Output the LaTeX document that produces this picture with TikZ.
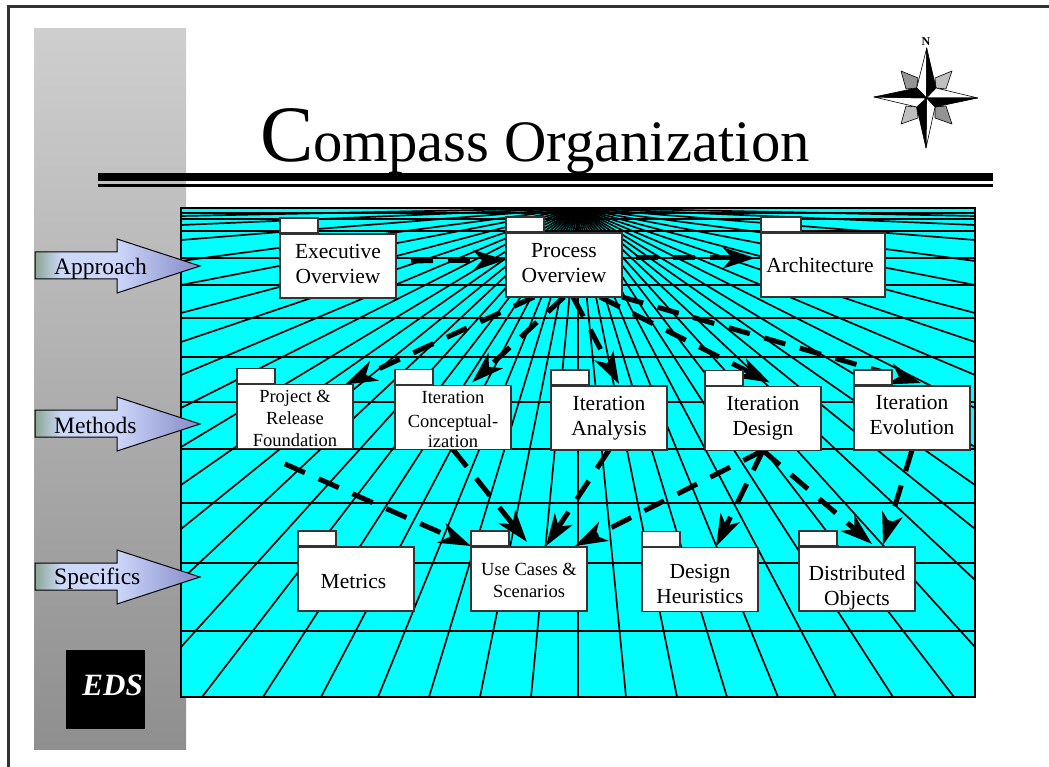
\documentclass[tikz,border=0pt]{standalone}
\usepackage{fontspec}
\setmainfont{Liberation Serif}
\usepackage{tikz}
\usetikzlibrary{arrows.meta, backgrounds, calc}

\definecolor{panelcyan}{rgb}{0,1,1}
\pgfdeclarehorizontalshading{labelarrow}{100bp}{
    rgb(0bp)=(0.55,0.65,0.58);
    rgb(25bp)=(0.55,0.65,0.58);
    rgb(33bp)=(0.80,0.85,0.98);
    rgb(50bp)=(0.80,0.84,0.98);
    rgb(75bp)=(0.52,0.54,0.78);
    rgb(100bp)=(0.52,0.54,0.78)}
\pgfdeclareverticalshading{sidebar}{100bp}{
    rgb(0bp)=(0.56,0.56,0.56);
    rgb(25bp)=(0.56,0.56,0.56);
    rgb(75bp)=(0.81,0.81,0.81);
    rgb(100bp)=(0.81,0.81,0.81)}

\tikzset{
    folderbox/.style={draw=black!80, fill=white, line width=1.2pt, inner sep=0pt, outer sep=0pt, align=center,
        minimum width=116pt, minimum height=64pt, font=\fontsize{21.5}{25}\selectfont},
    smallbox/.style={folderbox, font=\fontsize{18.5}{22}\selectfont},
    tabbox/.style={draw=black!80, fill=white, line width=1.2pt, inner sep=0pt, outer sep=0pt, minimum width=38pt, minimum height=15pt},
    flowarrow/.style={line width=5pt, dash pattern=on 22pt off 15pt, -{Stealth[length=32pt,width=21pt,inset=9pt]}},
    fanline/.style={line width=1.7pt},
    levelline/.style={line width=1.9pt},
    rayblack/.style={fill=black, draw=black, line width=0.6pt, line join=round},
    raywhite/.style={fill=white, draw=black, line width=0.6pt, line join=round},
    raygray/.style={draw=black, line width=0.6pt, line join=round},
}

\begin{document}
\begin{tikzpicture}[x=1pt,y=-1pt]
        \useasboundingbox (0,0) rectangle (1049,767);

        \coordinate (vp) at (578,208);

        % the folders
        \node[folderbox] (exec) at (338,266) {Executive\\Overview\rule[-4pt]{0pt}{4pt}};
        \node[folderbox] (process) at (564,265) {Process\\Overview\rule[-4pt]{0pt}{4pt}};
        \node[folderbox, minimum width=124pt] (arch) at (823,265) {Architecture\hspace{6pt}};
        \node[smallbox] (project) at (295,416.5) {\rule{0pt}{17pt}Project \&\\Release\\Foundation};
        \node[smallbox] (concept) at (453,417.5) {\rule{0pt}{17pt}Iteration\\[2pt]Conceptual-\\[-2pt]ization};
        \node[folderbox] (analysis) at (609,418) {Iteration\\Analysis};
        \node[folderbox] (design) at (763,418.5) {Iteration\\Design};
        \node[folderbox] (evolution) at (912,418) {Iteration\\Evolution\rule[-6pt]{0pt}{6pt}};
        \node[folderbox] (metrics) at (356,579) {\rule{0pt}{19pt}Metrics\hspace{5pt}};
        \node[smallbox] (usecases) at (529,579) {\rule{0pt}{15pt}Use Cases \&\\Scenarios};
        \node[folderbox] (heuristics) at (700,579.5) {\rule{0pt}{23pt}Design\\Heuristics};
        \node[folderbox] (distributed) at (857,579) {\rule{0pt}{33pt}Distributed\\Objects};

        \foreach \n in {exec,process,project,concept,analysis,design,evolution,metrics,usecases,heuristics,distributed}
            \node[tabbox, anchor=south west] (\n tab) at ([yshift=1pt]\n.north west) {};
        \node[tabbox, anchor=south west, minimum width=40pt] (archtab) at ([yshift=1pt]arch.north west) {};

        \begin{pgfonlayer}{background}
            \shade[shading=sidebar] (34,29) rectangle (186,749);
            \filldraw[fill=panelcyan, draw=black, line width=2pt] (181,208) rectangle (975,697);

            \foreach \x in {202,263,321,378,429,480,531,578,626,677,727,778,836,893,954}
                \draw[fanline] (vp) -- (\x,697);
            \foreach \y in {216,225,240,261,285,313,342,375,408,447,485,529,580,647} {
                \draw[fanline] (vp) -- (181,\y);
                \draw[fanline] (vp) -- (975,\y);
            }
            \foreach \y in {213,219,231,258,285,318,357,402,449,503,563,631}
                \draw[levelline] (181,\y) -- (975,\y);

            \draw[flowarrow, shorten <=15pt, shorten >=1pt] ([yshift=5pt]exec.east) -- ([yshift=5pt]process.west);
            \draw[flowarrow, shorten <=14pt, shorten >=6pt] ([yshift=7pt]process.east) -- ([yshift=7pt]arch.west);
            \draw[flowarrow] ([xshift=-30pt]process.south) -- ([xshift=-8pt]project.north east);
            \draw[flowarrow] (process.south) -- ([xshift=19pt,yshift=3pt]concept.north);
            \draw[flowarrow] ([xshift=9pt]process.south) -- ([xshift=10pt,yshift=2pt]analysis.north);
            \draw[flowarrow] ([xshift=36pt]process.south) -- ([xshift=7pt,yshift=4pt]design.north);
            \draw[flowarrow] (process.south east) -- ([xshift=9pt,yshift=3pt]evolution.north);
            \draw[flowarrow, shorten <=38pt] ([xshift=-45pt]project.south) -- (usecasestab.south west);
            \draw[flowarrow] (concept.south) -- ([xshift=-2pt,yshift=5pt]usecases.north);
            \draw[flowarrow] (analysis.south) -- ([xshift=17pt,yshift=1pt]usecases.north);
            \draw[flowarrow] (design.south) -- ([xshift=46pt,yshift=1pt]usecases.north);
            \draw[flowarrow] (design.south) -- ([xshift=16pt,yshift=1pt]heuristics.north);
            \draw[flowarrow] (design.south) -- ([xshift=15pt,yshift=3pt]distributed.north);
            \draw[flowarrow] (evolution.south) -- ([xshift=26pt,yshift=2pt]distributed.north);
        \end{pgfonlayer}

        % frame and title
        \draw[black!80, line width=2.6pt] (8.7,767) -- (8.7,6.7) -- (1049,6.7);
        \node[anchor=base west, inner sep=0pt] (title) at (260,162)
            {\fontsize{80}{80}\selectfont C\fontsize{58.7}{59}\selectfont ompass Organization};
        \fill[black] (98,173) rectangle (993,181);
        \fill[black] (98,184) rectangle (993,187);

        % labels on the left
        \foreach \y/\b/\t in {266/275/Approach,424/433/Methods,577/584/Specifics} {
            \shade[shading=labelarrow, draw=black, line width=1pt] (35,\y-14) -- (117,\y-14) -- (117,\y-27)
                -- (200,\y) -- (117,\y+27) -- (117,\y+13) -- (35,\y+13) -- cycle;
            \node[anchor=base west, inner sep=0pt, font=\fontsize{23.5}{25}\selectfont] (\t) at (54,\b) {\t};
        }

        \fill[black] (66,650) rectangle (145,729);
        \node[anchor=base east, inner sep=0pt, text=white, font=\fontsize{31}{31}\selectfont\bfseries\itshape] (eds) at (143,695) {EDS};

        % compass
        \coordinate (c) at (926.5,98);
        \filldraw[raygray, fill=black!42] (901,71) -- (918,78) -- (916.7,88) -- (906,89) -- cycle;
        \filldraw[raygray, fill=black!25] (952,71) -- (935,78) -- (936,88) -- (946,89) -- cycle;
        \filldraw[raygray, fill=black!42] (952,124) -- (935,118) -- (935,107) -- (946,106) -- cycle;
        \filldraw[raygray, fill=black!25] (901,124) -- (918,118) -- (916.7,107) -- (906,106) -- cycle;
        \path[raywhite] (c) -- (926.7,48) -- (916.7,88) -- cycle;
        \path[rayblack] (c) -- (926.7,48) -- (936,88) -- cycle;
        \path[raywhite] (c) -- (977.7,98) -- (936,88) -- cycle;
        \path[rayblack] (c) -- (977.7,98) -- (935,107) -- cycle;
        \path[raywhite] (c) -- (926,148) -- (935,107) -- cycle;
        \path[rayblack] (c) -- (926,148) -- (916.7,107) -- cycle;
        \path[raywhite] (c) -- (874,97) -- (916.7,107) -- cycle;
        \path[rayblack] (c) -- (874,97) -- (916.7,88) -- cycle;
        \node[anchor=base, inner sep=0pt, font=\fontsize{12}{12}\selectfont\bfseries] (north) at (926,46) {N};
\end{tikzpicture}
\end{document}
